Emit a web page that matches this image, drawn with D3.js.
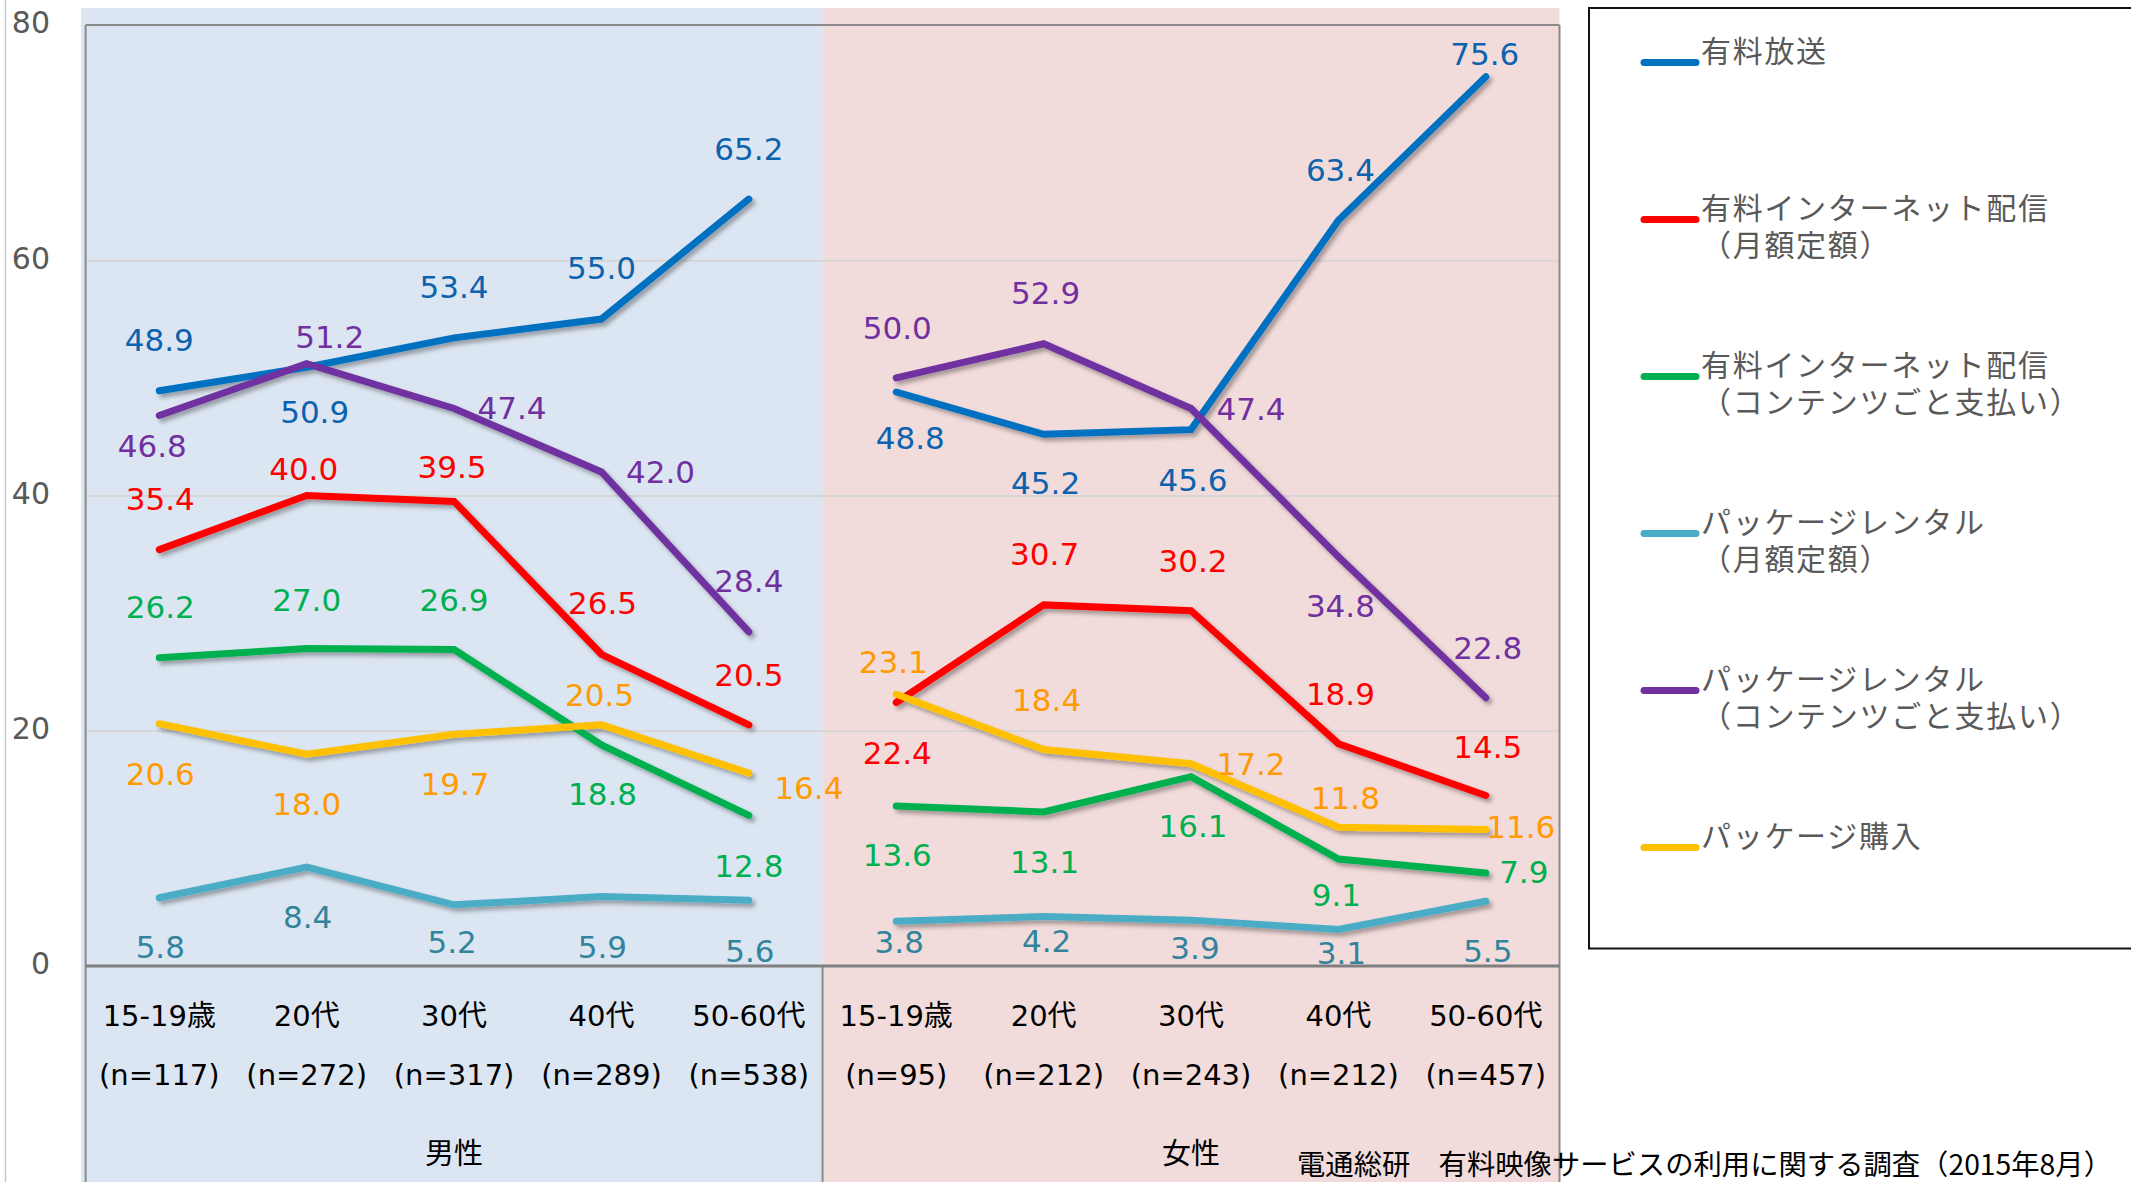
<!DOCTYPE html>
<html>
<head>
<meta charset="utf-8">
<script src="https://cdn.jsdelivr.net/npm/d3@7"></script>
<style>
  html, body { margin: 0; padding: 0; background: #ffffff; }
  svg { display: block; }
</style>
</head>
<body>
<svg id="chart" width="2131" height="1182"></svg>
<script>
// ---- data ----
const ageGroups = ["15-19歳", "20代", "30代", "40代", "50-60代"];
const genders = ["男性", "女性"];
const sampleSizes = [117, 272, 317, 289, 538, 95, 212, 243, 212, 457];
const yTicks = [0, 20, 40, 60, 80];

const seriesNames = [
  "有料放送",
  "有料インターネット配信\n（月額定額）",
  "有料インターネット配信\n（コンテンツごと支払い）",
  "パッケージレンタル\n（月額定額）",
  "パッケージレンタル\n（コンテンツごと支払い）",
  "パッケージ購入"
];

// values: 男性 5 age groups, then 女性 5 age groups
const paidBroadcast    = [48.9, 50.9, 53.4, 55.0, 65.2, 48.8, 45.2, 45.6, 63.4, 75.6];
const netFlatRate      = [35.4, 40.0, 39.5, 26.5, 20.5, 22.4, 30.7, 30.2, 18.9, 14.5];
const netPayPerView    = [26.2, 27.0, 26.9, 18.8, 12.8, 13.6, 13.1, 16.1,  9.1,  7.9];
const rentalFlatRate   = [ 5.8,  8.4,  5.2,  5.9,  5.6,  3.8,  4.2,  3.9,  3.1,  5.5];
const rentalPayPerView = [46.8, 51.2, 47.4, 42.0, 28.4, 50.0, 52.9, 47.4, 34.8, 22.8];
const packagePurchase  = [20.6, 18.0, 19.7, 20.5, 16.4, 23.1, 18.4, 17.2, 11.8, 11.6];

const sourceNote = "電通総研　有料映像サービスの利用に関する調査（2015年8月）";

// ---- styling ----
const lineColors  = ["#0070C0", "#FF0000", "#00B050", "#4BACC6", "#7030A0", "#FFC000"];
const labelColors = ["#0B62AE", "#FF0000", "#00B050", "#31849B", "#7030A0", "#FF9A00"];

// label placement relative to each point, in px [dx, dy]
const labelOffsets = [
  [[0,-51],[8,45],[0,-51],[0,-51],[0,-50],[14,46],[2,49],[2,50],[2,-50],[-1,-23]],
  [[1,-51],[-3,-27],[-2,-35],[1,-51],[0,-50],[1,50],[1,-51],[2,-50],[2,-50],[2,-49]],
  [[1,-51],[0,-49],[0,-50],[1,49],[0,50],[1,49],[1,50],[2,49],[-2,36],[38,-1]],
  [[1,49],[1,50],[-2,37],[1,50],[1,51],[3,21],[3,24],[4,28],[3,23],[2,50]],
  [[-7,30],[23,-27],[58,-1],[59,0],[0,-51],[1,-50],[2,-51],[60,0],[2,49],[2,-50]],
  [[1,50],[0,50],[1,50],[-2,-30],[60,15],[-3,-32],[3,-50],[60,0],[7,-29],[35,-3]]
];

const W = 2131, H = 1182;
const plot = { left: 85.6, right: 1559.5, top: 25, bottom: 966 };
const numFont = "'DejaVu Sans', 'Noto Sans CJK JP', sans-serif";
const cjkFont = "'Noto Sans CJK JP', 'DejaVu Sans', sans-serif";

const seriesValues = [paidBroadcast, netFlatRate, netPayPerView, rentalFlatRate, rentalPayPerView, packagePurchase];
const keys = [];
genders.forEach(g => ageGroups.forEach(a => keys.push(g + "|" + a)));

const svg = d3.select("#chart");

const x = d3.scaleBand().domain(keys).range([plot.left, plot.right]);
const xc = i => x(keys[i]) + x.bandwidth() / 2;
const y = d3.scaleLinear().domain([0, 80]).range([plot.bottom, plot.top]);

// drop shadow for the data lines
const defs = svg.append("defs");
const f = defs.append("filter").attr("id", "shadow")
  .attr("x", "-5%").attr("y", "-10%").attr("width", "115%").attr("height", "130%");
f.append("feDropShadow").attr("dx", 3).attr("dy", 3.5).attr("stdDeviation", 2)
  .attr("flood-color", "#000").attr("flood-opacity", 0.33);

// gender backgrounds
const splitX = x(keys[5]);
svg.append("rect").attr("x", plot.left - 4.5).attr("y", 8)
  .attr("width", splitX - plot.left + 4.5).attr("height", H - 8).attr("fill", "#DCE6F2");
svg.append("rect").attr("x", splitX).attr("y", 8)
  .attr("width", plot.right - splitX).attr("height", H - 8).attr("fill", "#F2DCDB");

// outer axis rule on the far left
svg.append("line").attr("x1", 5.5).attr("x2", 5.5).attr("y1", 0).attr("y2", H)
  .attr("stroke", "#c8c8c8").attr("stroke-width", 1.5);

// gridlines
const grid = svg.append("g").attr("transform", `translate(${plot.left},0)`)
  .call(d3.axisRight(y).tickValues([20, 40, 60]).tickSize(plot.right - plot.left).tickFormat(""));
grid.select(".domain").remove();
grid.selectAll("line").attr("stroke", "#d6d6d6").attr("stroke-width", 2);

// y axis labels
const yAxis = svg.append("g").attr("transform", "translate(55,0)")
  .call(d3.axisLeft(y).tickValues(yTicks).tickSize(0).tickPadding(5));
yAxis.select(".domain").remove();
yAxis.selectAll("text")
  .attr("dy", "0.36em").attr("y", -3)
  .style("font-family", numFont).style("font-size", "30px").attr("fill", "#595959");

// frame
const frame = svg.append("g").attr("stroke", "#8a8a8a").attr("stroke-width", 2);
frame.append("line").attr("x1", plot.left).attr("x2", plot.right).attr("y1", plot.top).attr("y2", plot.top);
frame.append("line").attr("x1", plot.left).attr("x2", plot.left).attr("y1", plot.top).attr("y2", H);
frame.append("line").attr("x1", plot.right).attr("x2", plot.right).attr("y1", plot.top).attr("y2", H);
frame.append("line").attr("x1", splitX).attr("x2", splitX).attr("y1", plot.bottom).attr("y2", H);
frame.append("line").attr("x1", plot.left).attr("x2", plot.right).attr("y1", plot.bottom).attr("y2", plot.bottom)
  .attr("stroke", "#7f7f7f").attr("stroke-width", 3);

// x axis: age group row and sample size row
function categoryRow(fmt, cy) {
  const g = svg.append("g").attr("transform", `translate(0,${plot.bottom})`)
    .call(d3.axisBottom(x).tickSize(0).tickFormat(fmt));
  g.select(".domain").remove();
  g.selectAll("text").attr("y", cy - plot.bottom).attr("dy", "0.36em")
    .style("font-family", numFont).style("font-size", "29px").attr("fill", "#000");
}
categoryRow((k, i) => ageGroups[i % ageGroups.length], 1016);
categoryRow((k, i) => `(n=${sampleSizes[i]})`, 1075);

// gender labels
genders.forEach((g, gi) => {
  svg.append("text").attr("x", xc(gi * 5 + 2)).attr("y", 1154).attr("dy", "0.36em")
    .attr("text-anchor", "middle").style("font-family", cjkFont).style("font-size", "29px")
    .attr("fill", "#000").text(g);
});

// data lines, one segment per gender
const line = d3.line().x(d => xc(d.i)).y(d => y(d.v));
const linesG = svg.append("g").attr("filter", "url(#shadow)");
seriesValues.forEach((vals, s) => {
  genders.forEach((g, gi) => {
    const pts = vals.slice(gi * 5, gi * 5 + 5).map((v, j) => ({ i: gi * 5 + j, v }));
    linesG.append("path").datum(pts).attr("d", line)
      .attr("fill", "none").attr("stroke", lineColors[s]).attr("stroke-width", 7)
      .attr("stroke-linecap", "round").attr("stroke-linejoin", "miter");
  });
});

// value labels
const labelsG = svg.append("g");
seriesValues.forEach((vals, s) => {
  labelsG.selectAll(null).data(vals).enter().append("text")
    .attr("x", (v, i) => xc(i) + labelOffsets[s][i][0])
    .attr("y", (v, i) => y(v) + labelOffsets[s][i][1])
    .attr("dy", "0.36em").attr("text-anchor", "middle")
    .style("font-family", numFont).style("font-size", "31px")
    .attr("fill", labelColors[s]).text(v => v.toFixed(1));
});

// legend
const legend = svg.append("g");
legend.append("rect").attr("x", 1589).attr("y", 8).attr("width", 600).attr("height", 940.5)
  .attr("fill", "#fff").attr("stroke", "#111").attr("stroke-width", 2);
seriesNames.forEach((name, s) => {
  const ly = 62.5 + s * 157;
  legend.append("line").attr("x1", 1644).attr("x2", 1696).attr("y1", ly).attr("y2", ly)
    .attr("stroke", lineColors[s]).attr("stroke-width", 7).attr("stroke-linecap", "round");
  const t = legend.append("text").attr("y", ly - 11)
    .style("font-family", cjkFont).style("font-size", "30px").style("letter-spacing", "1.7px")
    .attr("fill", "#595959");
  name.split("\n").forEach((part, k) => {
    t.append("tspan").attr("x", 1701)
      .attr("dy", k === 0 ? "0.36em" : "37px").text(part);
  });
});

// source note
svg.append("text").attr("x", 1297).attr("y", 1165).attr("dy", "0.36em")
  .attr("textLength", 815).attr("lengthAdjust", "spacingAndGlyphs")
  .style("font-family", cjkFont).style("font-size", "28px").attr("fill", "#000")
  .text(sourceNote);
</script>
</body>
</html>
